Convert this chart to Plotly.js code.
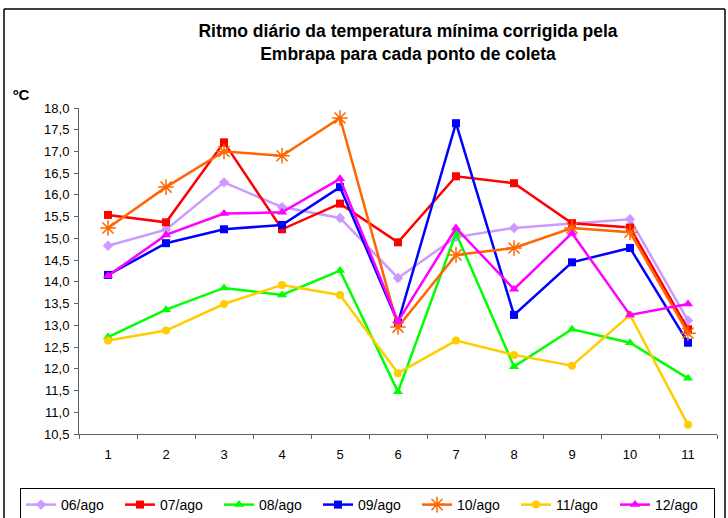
<!DOCTYPE html>
<html>
<head>
<meta charset="utf-8">
<script src="https://cdn.plot.ly/plotly-3.0.1.min.js"></script>
<style>
html,body{margin:0;padding:0;background:#fff;}
#chart{width:728px;height:518px;}
</style>
</head>
<body>
<div id="chart"></div>
<script>
const categories = ["1","2","3","4","5","6","7","8","9","10","11"];
const seriesNames = ["06/ago","07/ago","08/ago","09/ago","10/ago","11/ago","12/ago"];
const ago06 = [14.83,15.20,16.29,15.72,15.47,14.09,15.03,15.24,15.34,15.44,13.11];
const ago07 = [15.54,15.37,17.21,15.21,15.80,14.91,16.43,16.27,15.35,15.25,12.91];
const ago08 = [12.73,13.36,13.86,13.70,14.26,11.47,15.12,12.05,12.91,12.60,11.78];
const ago09 = [14.16,14.89,15.21,15.31,16.18,13.06,17.65,13.24,14.45,14.78,12.60];
const ago10 = [15.24,16.18,17.00,16.90,17.77,12.96,14.62,14.78,15.24,15.14,12.82];
const ago11 = [12.65,12.88,13.49,13.93,13.70,11.90,12.65,12.32,12.07,13.24,10.71];
const ago12 = [14.14,15.08,15.57,15.60,16.37,13.09,15.24,13.83,15.12,13.24,13.49];
const values = [ago06,ago07,ago08,ago09,ago10,ago11,ago12];

const colors = ["#CC99FF","#FF0000","#00FF00","#0000FF","#FF6600","#FFCC00","#FF00FF"];
const symbols = ["diamond","square","triangle-up","square","asterisk-open","circle","triangle-up"];
const sizes = [8,8,9,8,13,8,9];

const traces = seriesNames.map((n,i)=>({
  type:"scatter", mode:"lines+markers", name:n,
  x:categories, y:values[i],
  line:{color:colors[i], width:2.5},
  marker:{symbol:symbols[i], size:sizes[i], color:colors[i], line:{color:colors[i], width: symbols[i]==="asterisk-open"?1.5:0}}
}));

const L=79, R=717, T=108, B=434, W=728, H=518;
const pw=R-L, ph=B-T;
const px = v => (v-L)/pw;
const py = v => (B-v)/ph;

const layout = {
  width:W, height:H,
  margin:{l:L, r:W-R, t:T, b:H-B, pad:0, autoexpand:false},
  paper_bgcolor:"#fff", plot_bgcolor:"#fff",
  separators:", ",
  font:{family:"Liberation Sans, Arial, sans-serif", size:13, color:"#000"},
  showlegend:true,
  title:{text:"<b>Ritmo diário da temperatura mínima corrigida pela<br>Embrapa para cada ponto de coleta</b>",
    font:{size:17.5, color:"#000"}, x:px(408), xref:"paper", xanchor:"center",
    y:1-37/H, yref:"container", yanchor:"middle"},
  xaxis:{type:"category", showgrid:false, zeroline:false, showline:true, linecolor:"#606060", linewidth:1,
    ticks:"outside", tickson:"boundaries", ticklen:4, tickcolor:"#606060", tickfont:{size:13},
    ticklabelstandoff:8, range:[-0.5,10.5]},
  yaxis:{range:[10.5,18], dtick:0.5, tick0:10.5, tickformat:".1f", showgrid:false, zeroline:false,
    showline:true, linecolor:"#606060", linewidth:1, ticks:"outside", ticklen:4, tickcolor:"#606060", tickfont:{size:13},
    ticklabelstandoff:2},
  legend:{orientation:"h", x:px(20), xanchor:"left", y:py(488), yanchor:"top",
    bordercolor:"#000", borderwidth:1, bgcolor:"#fff", font:{size:14}, itemwidth:30, tracegroupgap:0,
    entrywidth:54, entrywidthmode:"pixels"},
  annotations:[
    {text:"<b>ºC</b>", xref:"paper", yref:"paper", x:px(11), y:py(94), xanchor:"left", yanchor:"middle",
     showarrow:false, font:{size:15, color:"#000"}}
  ],
  shapes:[
    {type:"line", xref:"paper", yref:"paper", x0:px(4), x1:px(4), y0:py(9), y1:py(520), line:{color:"#000", width:1.5}},
    {type:"line", xref:"paper", yref:"paper", x0:px(4), x1:px(725), y0:py(9), y1:py(9), line:{color:"#000", width:1.5}},
    {type:"line", xref:"paper", yref:"paper", x0:px(725), x1:px(725), y0:py(9), y1:py(520), line:{color:"#000", width:1.5}}
  ]
};

Plotly.newPlot("chart", traces, layout, {displayModeBar:false, staticPlot:true});
</script>
</body>
</html>
